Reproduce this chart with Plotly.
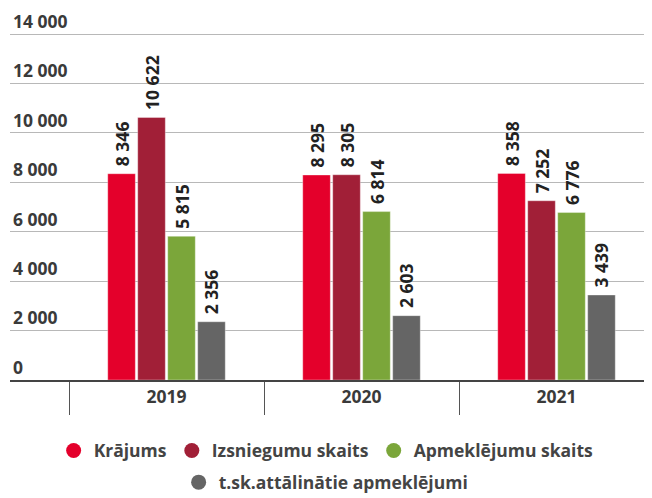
import plotly.graph_objects as go

years = ["2019", "2020", "2021"]
krajums = [8346, 8295, 8358]
izsniegumu = [10622, 8305, 7252]
apmeklejumu = [5815, 6814, 6776]
attalinatie = [2356, 2603, 3439]
y_max = 15052

series = [
    ("Krājums", krajums, "#E4002B", "legend"),
    ("Izsniegumu skaits", izsniegumu, "#A11F37", "legend"),
    ("Apmeklējumu skaits", apmeklejumu, "#7BA63A", "legend"),
    ("t.sk.attālinātie apmeklējumi", attalinatie, "#656565", "legend2"),
]

FONT = "Open Sans"
TXT = "#3a3a3a"
FS = 17.5

fig = go.Figure()
for name, vals, col, lg in series:
    fig.add_trace(go.Bar(
        x=years, y=vals, name=name,
        marker=dict(color=col, line=dict(width=1, color="rgba(255,255,255,0.35)")),
        texttemplate="\u00a0%{y:,}", textposition="outside", textangle=-90,
        constraintext="none", cliponaxis=False,
        textfont=dict(family=FONT, size=FS, color="#222222", weight="bold"),
        showlegend=False, hoverinfo="skip",
    ))
for name, vals, col, lg in series:
    fig.add_trace(go.Scatter(
        x=[years[0]], y=[None], mode="markers", name=name,
        marker=dict(color=col, size=15, symbol="circle"),
        legend=lg, showlegend=True, hoverinfo="skip",
    ))

# page body has an 8px margin; figure is sized to fit the 652x498 window
fig.update_layout(
    width=644, height=490,
    margin=dict(l=2, r=0, t=0, b=118, autoexpand=False),
    paper_bgcolor="white", plot_bgcolor="white",
    separators=", ",
    barmode="group", bargap=0.385, bargroupgap=0.08,
    font=dict(family=FONT, color=TXT),
    legend=dict(orientation="h", x=0.494, xref="container", xanchor="center",
                y=-0.190, yanchor="middle",
                font=dict(family=FONT, size=FS, color="#444444", weight="bold")),
    legend2=dict(orientation="h", x=0.494, xref="container", xanchor="center",
                 y=-0.275, yanchor="middle",
                 font=dict(family=FONT, size=FS, color="#444444", weight="bold")),
)
fig.update_xaxes(
    type="category", range=[-0.8026, 2.4897], fixedrange=True,
    tickson="boundaries", ticks="outside", ticklen=33, tickwidth=1, tickcolor="#555555",
    showline=True, linecolor="#444444", linewidth=1.5,
    tickfont=dict(family=FONT, size=FS, color=TXT, weight="bold"),
    showgrid=False,
)
fig.update_yaxes(
    range=[0, y_max], tick0=0, dtick=2000, tickformat=",", fixedrange=True,
    ticklabelposition="inside top",
    showgrid=True, gridcolor="#b8b8b8", gridwidth=1,
    zeroline=False,
    tickfont=dict(family=FONT, size=FS, color=TXT, weight="bold"),
)

fig.write_html("out.html")
